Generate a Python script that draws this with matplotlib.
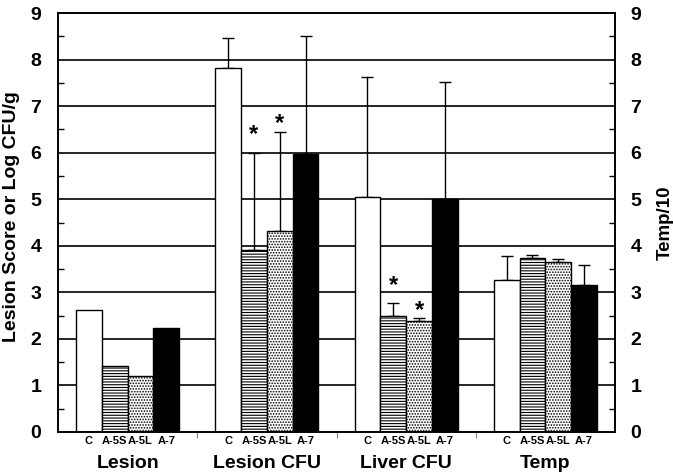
import matplotlib.pyplot as plt
import matplotlib.transforms as mtransforms
import numpy as np

plt.rcParams['font.family'] = ['Liberation Sans', 'DejaVu Sans']
plt.rcParams['font.weight'] = 'bold'
plt.rcParams['hatch.linewidth'] = 0.8
plt.rcParams['hatch.color'] = 'black'

groups = ['Lesion', 'Lesion CFU', 'Liver CFU', 'Temp']
treatments = ['C', 'A-5S', 'A-5L', 'A-7']

# mean values per treatment, one entry per group
val_C = [2.62, 7.82, 5.05, 3.26]
val_A5S = [1.42, 3.91, 2.49, 3.73]
val_A5L = [1.21, 4.31, 2.39, 3.65]
val_A7 = [2.23, 5.97, 5.00, 3.16]

# upper error (SD) per treatment; Lesion has none
err_C = [0, 0.65, 2.58, 0.51]
err_A5S = [0, 2.08, 0.28, 0.08]
err_A5L = [0, 2.13, 0.06, 0.07]
err_A7 = [0, 2.54, 2.52, 0.43]

# significance stars: (group, treatment, y)
stars = [(1, 1, 6.55), (1, 2, 6.79), (2, 1, 3.31), (2, 2, 2.77)]

values = [val_C, val_A5S, val_A5L, val_A7]
errors = [err_C, err_A5S, err_A5L, err_A7]
faces = ['white', 'white', 'white', 'black']
hatches = [None, '------', '......', None]

fig = plt.figure(figsize=(6.73, 4.75), dpi=100)
ax = fig.add_axes([58/673, 1-432/475, 557/673, 419/475])

w = 0.185
x = np.arange(len(groups))
bar_pos = []
for i in range(4):
    xi = x + (i - 1.5) * w
    bar_pos.extend(xi)
    ax.bar(xi, values[i], width=w, color=faces[i], edgecolor='black',
           linewidth=1.0, hatch=hatches[i], zorder=2)
    e = np.array(errors[i])
    has = e > 0
    ax.errorbar(xi[has], np.array(values[i])[has],
                yerr=[np.zeros(has.sum()), e[has]], fmt='none',
                ecolor='black', elinewidth=1.0, capsize=4, capthick=1.0,
                zorder=1)

for g, t, ys in stars:
    ax.text(x[g] + (t - 1.5) * w, ys - 0.3, '*', ha='center', va='baseline',
            fontsize=17, fontweight='bold')

for yv in range(1, 9):
    ax.axhline(yv, color='black', linewidth=1.2, zorder=0)

ax.set_xlim(-0.5, 3.5)
ax.set_ylim(0, 9)
ax.set_yticks(range(10))
ax.set_yticks(np.arange(0.5, 9, 1), minor=True)
ax.tick_params(axis='y', which='major', length=0, labelsize=14, pad=12)
ax.tick_params(axis='y', which='minor', direction='in', length=4, width=1)

bar_pos = sorted(bar_pos)
ax.set_xticks(bar_pos)
ax.set_xticklabels(treatments * 4, fontsize=8, fontweight='bold')
ax.tick_params(axis='x', which='major', length=0, pad=3)
ax.set_xticks([0.5, 1.5, 2.5], minor=True)
ax.tick_params(axis='x', which='minor', direction='out', length=4, width=0.8,
               color='#888888')

trans = mtransforms.blended_transform_factory(ax.transData, ax.transAxes)
for g in range(len(groups)):
    ax.text(x[g], -0.075, groups[g], transform=trans, ha='center', va='center',
            fontsize=14, fontweight='bold')

for s in ax.spines.values():
    s.set_linewidth(1.2)

ax.set_ylabel('Lesion Score or Log CFU/g', fontsize=14, fontweight='bold')
ax.yaxis.set_label_coords(-0.068, 0.515)

ax2 = ax.twinx()
ax2.set_ylim(0, 9)
ax2.set_yticks(range(10))
ax2.set_yticks(np.arange(0.5, 9, 1), minor=True)
ax2.tick_params(axis='y', which='major', length=0, labelsize=14, pad=11)
ax2.tick_params(axis='y', which='minor', direction='in', length=4, width=1)
ax2.set_ylabel('Temp/10', fontsize=13.5, fontweight='bold')
ax2.yaxis.set_label_coords(1.0754, 0.5)
for s in ax2.spines.values():
    s.set_linewidth(1.2)

fig.savefig('out.png', dpi=100)
